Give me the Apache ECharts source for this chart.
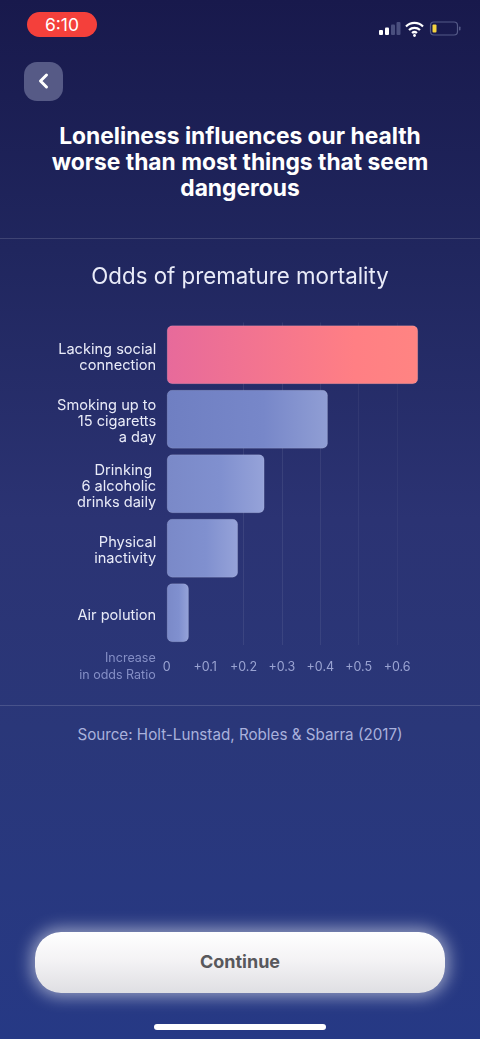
<!DOCTYPE html>
<html>
<head>
<meta charset="utf-8">
<script src="https://cdn.jsdelivr.net/npm/echarts@6/dist/echarts.min.js"></script>
<style>
html, body { margin: 0; padding: 0; }
#phone {
    position: relative; width: 480px; height: 1039px; overflow: hidden;
    background: linear-gradient(180deg, #18194c 0%, #20265e 24%, #2b3373 50%, #2a3779 70%, #263985 100%);
    font-family: Inter, "Noto Sans", sans-serif; color: #fff;
}
#chart { position: absolute; left: 0; top: 240px; width: 480px; height: 465px; }
.pill {
    position: absolute; left: 27px; top: 12px; width: 70px; height: 25px; border-radius: 13px;
    background: #f4403b; text-align: center; line-height: 25px; font-size: 17.5px; color: #fff;
}
.back {
    position: absolute; left: 23.5px; top: 61.5px; width: 39px; height: 39px; border-radius: 13px;
    background: #565a86;
}
.head {
    position: absolute; left: 0; top: 123px; width: 480px; text-align: center;
    font-size: 22.8px; line-height: 26px; font-weight: 700;
}
.rule { position: absolute; left: 0; width: 480px; height: 1px; background: rgba(255,255,255,.14); }
.source {
    position: absolute; left: 0; top: 726px; width: 480px; text-align: center;
    font-size: 15.2px; line-height: 18px; color: #a9b1dc;
}
.btn {
    position: absolute; left: 35px; top: 931.5px; width: 410px; height: 61.5px; border-radius: 26px;
    background: linear-gradient(180deg, #ffffff 0%, #f4f3f5 45%, #dfdfe3 100%);
    box-shadow: 0 0 16px 4px rgba(255,255,255,.5);
    text-align: center; line-height: 60px; font-size: 18px; font-weight: 700; color: #58585c;
}
.home { position: absolute; left: 154px; top: 1024px; width: 172px; height: 5.5px; border-radius: 3px; background: #fff; }
svg { position: absolute; }
</style>
</head>
<body>
<div id="phone">
    <div class="pill">6:10</div>
    <svg style="left:378px;top:20px" width="90" height="18" viewBox="0 0 90 18">
        <rect x="1" y="10" width="4" height="5" rx="1" fill="#fff"/>
        <rect x="7" y="7.5" width="4" height="7.5" rx="1" fill="#fff"/>
        <rect x="13" y="4.5" width="4" height="10.5" rx="1" fill="#4a4f7e"/>
        <rect x="18.5" y="2" width="4" height="13" rx="1" fill="#4a4f7e"/>
        <path d="M28 6.5 a12 12 0 0 1 17 0 M31 10 a8 8 0 0 1 11 0 M34 13 a4 4 0 0 1 5 0" fill="none" stroke="#fff" stroke-width="2.2"/>
        <circle cx="36.5" cy="15.5" r="1.4" fill="#fff"/>
        <rect x="52.5" y="2" width="27" height="13" rx="3.5" fill="none" stroke="#555a88" stroke-width="1.2"/>
        <rect x="54.5" y="4.5" width="4" height="8" rx="1" fill="#f5d33f"/>
        <rect x="81" y="6.5" width="1.5" height="4" rx="0.7" fill="#555a88"/>
    </svg>
    <div class="back"></div>
    <svg style="left:36px;top:72px" width="14" height="18" viewBox="0 0 14 18">
        <path d="M10.5 3 L4.5 9 L10.5 15" fill="none" stroke="#fff" stroke-width="3" stroke-linecap="round" stroke-linejoin="round"/>
    </svg>
    <div class="head">Loneliness influences our health<br>worse than most things that seem<br>dangerous</div>
    <div class="rule" style="top:238px"></div>
    <div id="chart"></div>
    <div class="rule" style="top:705px"></div>
    <div class="source">Source: Holt-Lunstad, Robles &amp; Sbarra (2017)</div>
    <div class="btn">Continue</div>
    <div class="home"></div>
</div>
<script>
const chartTitle = 'Odds of premature mortality'
const axisName = 'Increase\nin odds Ratio'
const categories = ['Lacking social\nconnection', 'Smoking up to\n15 cigaretts\na day', 'Drinking \n6 alcoholic\ndrinks daily', 'Physical\ninactivity', 'Air polution']
const values = [0.655, 0.42, 0.255, 0.186, 0.058]
const tickLabels = ['0', '+0.1', '+0.2', '+0.3', '+0.4', '+0.5', '+0.6']

function barColor(index) {
    let stops = [[0, '#7a89c8'], [0.55, '#8090cf'], [1, '#96a3d9']]
    if (index === 0) stops = [[0, '#e76a9b'], [0.75, '#ff7f84'], [1, '#ff8482']]
    if (index === 1) stops = [[0, '#6f7fc2'], [0.6, '#7787c9'], [1, '#909ed4']]
    return new echarts.graphic.LinearGradient(0, 0, 1, 0, stops.map(s => ({ offset: s[0], color: s[1] })))
}

// rich text so the padding moves every line down a bit
function categoryLabel(name) {
    return name.split('\n').map(line => '{cat|' + line + '}').join('\n')
}

const chart = echarts.init(document.getElementById('chart'))
chart.setOption({
    animation: false,
    title: {
        text: chartTitle,
        left: 'center',
        top: 21,
        textStyle: { color: '#e9ebf8', fontSize: 22.3, fontWeight: 400, fontFamily: 'Inter' }
    },
    grid: { left: 166.7, top: 82.5, width: 268.8, height: 322.5 },
    xAxis: {
        type: 'value',
        min: 0,
        max: 0.7,
        interval: 0.1,
        name: axisName,
        nameLocation: 'start',
        nameGap: 11,
        nameTextStyle: {
            color: '#858fc6', fontSize: 12.5, lineHeight: 17.5, fontFamily: 'Inter',
            align: 'right', verticalAlign: 'top', padding: [4, 0, 0, 0]
        },
        axisLine: { show: false },
        axisTick: { show: false },
        axisLabel: {
            margin: 16,
            color: '#9aa3d2',
            fontSize: 12.5,
            fontFamily: 'Inter',
            showMaxLabel: false,
            formatter: (v) => tickLabels[Math.round(v * 10)]
        },
        splitLine: {
            show: true,
            showMinLine: false,
            showMaxLine: false,
            lineStyle: {
                width: 1,
                color: ['transparent', 'rgba(255,255,255,.08)', 'rgba(255,255,255,.08)', 'rgba(255,255,255,.07)',
                    'rgba(255,255,255,.05)', 'rgba(255,255,255,.04)', 'rgba(255,255,255,.03)', 'transparent']
            }
        }
    },
    yAxis: {
        type: 'category',
        inverse: true,
        data: categories,
        axisLine: { show: false },
        axisTick: { show: false },
        axisLabel: {
            margin: 10.5,
            align: 'right',
            formatter: categoryLabel,
            rich: {
                cat: { padding: [5, 0, 0, 0], color: '#e9ebf8', fontSize: 14.6, lineHeight: 16, fontFamily: 'Inter' }
            }
        }
    },
    series: [{
        type: 'bar',
        barWidth: 59,
        data: values.map((v, i) => ({
            value: v,
            itemStyle: {
                color: barColor(i),
                borderRadius: 5,
                borderColor: 'rgba(255,255,255,.12)',
                borderWidth: 1
            }
        }))
    }]
})
</script>
</body>
</html>
